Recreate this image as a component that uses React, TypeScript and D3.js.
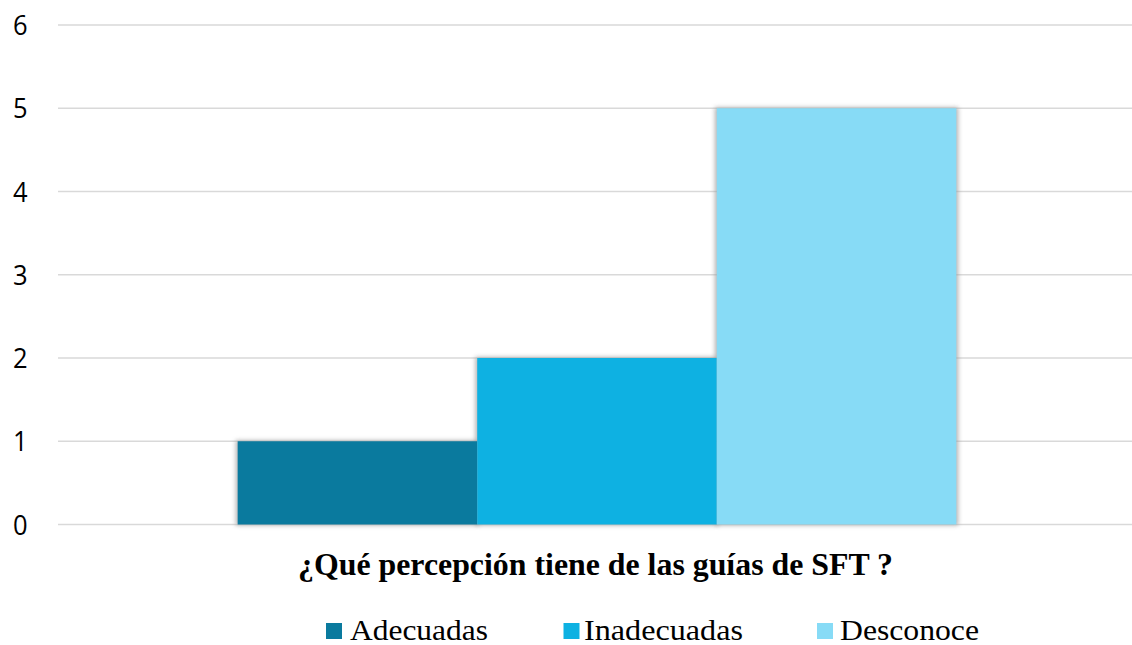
import React from "react";
import * as d3 from "d3";

const categories = ["¿Qué percepción tiene de las guías de SFT ?"];
const seriesNames = ["Adecuadas", "Inadecuadas", "Desconoce"];
const seriesValues = [1, 2, 5];
const seriesColors = ["#0a7a9e", "#0eb1e2", "#87dbf6"];
const yTicks = [0, 1, 2, 3, 4, 5, 6];

const W = 1132;
const H = 645;

export default function App() {
  const x0 = d3.scaleBand<string>().domain(categories).range([58, 1136]).paddingInner(1 / 3).paddingOuter(1 / 6);
  const x1 = d3.scaleBand<string>().domain(seriesNames).range([0, x0.bandwidth()]);
  const y = d3.scaleLinear().domain([0, 6]).range([524.5, 25]);

  const legendX = [326, 563.5, 817];
  const legendTextX = [350, 584, 840];
  const legendTextW = [138, 159, 139];

  return (
    <svg
      width={W}
      height={H}
      style={{ position: "absolute", left: 0, top: 0, background: "#fff" }}
    >
      <defs>
        <filter id="shadow" x="-10%" y="-10%" width="120%" height="120%">
          <feGaussianBlur stdDeviation="2" />
        </filter>
      </defs>
      {yTicks.map((t) => (
        <g key={t}>
          <line x1={58} x2={W} y1={y(t)} y2={y(t)} stroke="#d9d9d9" strokeWidth={1.5} />
          <text
            x={27.5}
            y={y(t)}
            dy="0.36em"
            textAnchor="end"
            fontFamily="'Open Sans', sans-serif"
            fontSize={28}
            textLength={14.6}
            lengthAdjust="spacingAndGlyphs"
            fill="#000"
          >
            {t}
          </text>
        </g>
      ))}
      {categories.map((c) => (
        <g key={c}>
          {seriesNames.map((s, i) => (
            <rect
              key={"sh" + s}
              x={(x0(c) ?? 0) + (x1(s) ?? 0) - 2}
              y={y(seriesValues[i]) - 1}
              width={x1.bandwidth() + 4}
              height={y(0) - y(seriesValues[i]) + 2}
              fill="#999"
              opacity={0.7}
              filter="url(#shadow)"
            />
          ))}
          {seriesNames.map((s, i) => (
            <rect
              key={s}
              x={(x0(c) ?? 0) + (x1(s) ?? 0)}
              y={y(seriesValues[i])}
              width={x1.bandwidth()}
              height={y(0) - y(seriesValues[i])}
              fill={seriesColors[i]}
            />
          ))}
          <text
            x={298}
            y={575}
            fontFamily="'Liberation Serif', 'Times New Roman', serif"
            fontWeight="bold"
            fontSize={31}
            textLength={595}
            lengthAdjust="spacingAndGlyphs"
            fill="#000"
          >
            {c}
          </text>
        </g>
      ))}
      {seriesNames.map((s, i) => (
        <g key={"lg" + s}>
          <rect x={legendX[i]} y={623} width={16} height={16} fill={seriesColors[i]} />
          <text
            x={legendTextX[i]}
            y={639.5}
            fontFamily="'Liberation Serif', 'Times New Roman', serif"
            fontSize={29}
            textLength={legendTextW[i]}
            lengthAdjust="spacingAndGlyphs"
            fill="#000"
          >
            {s}
          </text>
        </g>
      ))}
    </svg>
  );
}
